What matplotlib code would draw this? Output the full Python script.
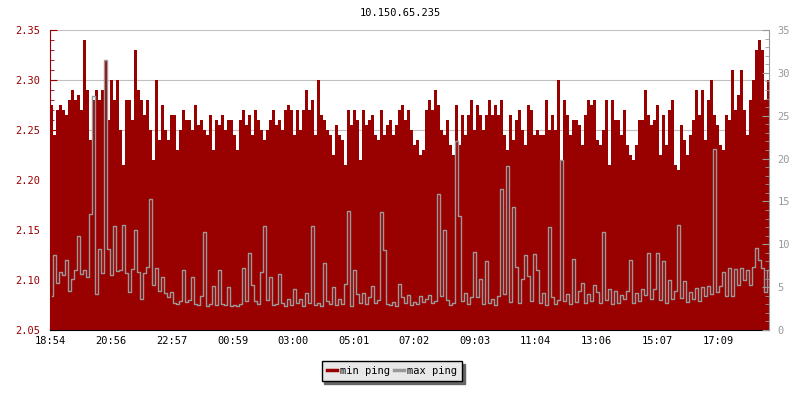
import matplotlib
matplotlib.use("Agg")
import matplotlib.pyplot as plt
from matplotlib.lines import Line2D
from matplotlib.ticker import MultipleLocator, FormatStrFormatter
import numpy as np

title = "10.150.65.235"
time_labels = ["18:54", "20:56", "22:57", "00:59", "03:00", "05:01",
               "07:02", "09:03", "11:04", "13:06", "15:07", "17:09"]
# minutes after 18:54
time_ticks = [0, 122, 243, 365, 486, 607, 728, 849, 970, 1092, 1213, 1335]
step_min = 6  # one sample every 6 minutes

# min ping (ms), left axis
min_ping = [
    2.275, 2.245, 2.27, 2.275, 2.27, 2.265, 2.28, 2.29, 2.28, 2.285,
    2.27, 2.34, 2.29, 2.24, 2.28, 2.29, 2.28, 2.29, 2.32, 2.26,
    2.30, 2.28, 2.30, 2.25, 2.215, 2.28, 2.28, 2.26, 2.33, 2.29,
    2.28, 2.265, 2.28, 2.25, 2.22, 2.30, 2.24, 2.275, 2.25, 2.24,
    2.265, 2.265, 2.23, 2.25, 2.27, 2.26, 2.26, 2.25, 2.275, 2.255,
    2.26, 2.25, 2.245, 2.265, 2.23, 2.26, 2.255, 2.265, 2.25, 2.26,
    2.26, 2.245, 2.23, 2.26, 2.27, 2.255, 2.265, 2.245, 2.27, 2.26,
    2.25, 2.24, 2.25, 2.26, 2.27, 2.255, 2.26, 2.25, 2.27, 2.275,
    2.27, 2.245, 2.27, 2.25, 2.27, 2.29, 2.27, 2.28, 2.245, 2.30,
    2.265, 2.26, 2.25, 2.245, 2.225, 2.255, 2.245, 2.24, 2.215, 2.27,
    2.255, 2.27, 2.26, 2.22, 2.27, 2.255, 2.26, 2.265, 2.245, 2.24,
    2.27, 2.245, 2.255, 2.26, 2.245, 2.255, 2.27, 2.275, 2.26, 2.27,
    2.25, 2.235, 2.24, 2.225, 2.23, 2.27, 2.28, 2.27, 2.29, 2.275,
    2.25, 2.245, 2.26, 2.235, 2.225, 2.275, 2.235, 2.265, 2.245, 2.265,
    2.28, 2.25, 2.275, 2.265, 2.25, 2.265, 2.28, 2.265, 2.275, 2.265,
    2.28, 2.245, 2.23, 2.265, 2.24, 2.26, 2.27, 2.25, 2.235, 2.275,
    2.27, 2.245, 2.25, 2.245, 2.245, 2.28, 2.25, 2.265, 2.25, 2.30,
    2.22, 2.28, 2.265, 2.245, 2.26, 2.26, 2.255, 2.235, 2.265, 2.28,
    2.275, 2.28, 2.24, 2.235, 2.25, 2.28, 2.215, 2.28, 2.26, 2.26,
    2.245, 2.27, 2.235, 2.225, 2.22, 2.235, 2.26, 2.26, 2.29, 2.265,
    2.255, 2.26, 2.275, 2.225, 2.265, 2.235, 2.27, 2.28, 2.215, 2.21,
    2.255, 2.24, 2.225, 2.245, 2.26, 2.29, 2.265, 2.29, 2.24, 2.28,
    2.30, 2.265, 2.255, 2.235, 2.23, 2.265, 2.26, 2.31, 2.27, 2.285,
    2.31, 2.27, 2.245, 2.28, 2.30, 2.33, 2.34, 2.33, 2.28, 2.30,
]

# max ping (ms), right axis
max_ping = [
    4.0, 8.7, 5.5, 6.8, 6.4, 8.2, 4.6, 6.0, 7.0, 11.0,
    6.5, 7.0, 6.2, 13.5, 27.3, 4.2, 9.5, 6.6, 31.5, 9.4,
    6.4, 12.1, 6.9, 7.0, 12.3, 6.7, 4.4, 7.1, 11.7, 6.8,
    3.6, 6.6, 7.4, 15.3, 5.2, 7.2, 4.6, 6.2, 4.3, 3.8,
    4.4, 3.2, 3.0, 3.4, 7.0, 3.3, 3.5, 6.2, 3.0, 2.9,
    4.0, 11.4, 2.8, 3.0, 5.1, 2.9, 7.0, 3.0, 2.9, 5.0,
    2.8, 2.9, 2.8, 3.0, 7.2, 3.4, 9.0, 5.3, 3.4, 3.0,
    6.8, 12.1, 3.5, 6.2, 2.9, 3.0, 6.5, 3.1, 2.8, 3.6,
    2.9, 4.8, 3.1, 3.6, 2.8, 4.3, 3.2, 12.1, 2.9, 3.2,
    2.8, 7.8, 3.4, 3.0, 5.0, 2.9, 3.6, 3.0, 5.4, 13.9,
    2.8, 7.0, 4.2, 3.1, 4.3, 3.0, 3.9, 5.1, 3.2, 3.5,
    13.8, 9.3, 3.0, 2.9, 3.3, 2.8, 5.4, 3.9, 3.1, 4.1,
    2.9, 3.3, 3.0, 4.0, 3.3, 3.6, 4.1, 3.2, 3.4, 15.9,
    4.0, 11.7, 3.5, 2.9, 3.2, 22.0, 13.3, 3.4, 4.3, 3.0,
    3.9, 9.1, 3.8, 5.9, 3.0, 8.0, 3.2, 3.6, 2.9, 4.0,
    16.5, 4.2, 19.1, 3.3, 14.3, 7.3, 3.1, 6.0, 8.8, 6.3,
    3.4, 8.9, 7.0, 3.2, 4.3, 2.9, 12.0, 3.8, 3.0, 3.5,
    19.8, 3.4, 4.2, 3.0, 8.3, 3.3, 4.5, 5.5, 3.1, 4.2,
    3.4, 5.2, 4.4, 3.2, 11.4, 3.5, 4.8, 3.0, 4.5, 3.1,
    4.1, 3.6, 4.5, 8.2, 3.2, 4.3, 3.4, 4.8, 4.1, 9.0,
    3.6, 4.8, 9.0, 3.5, 8.0, 3.1, 5.8, 3.6, 4.5, 12.2,
    3.7, 5.7, 3.3, 4.4, 3.6, 4.9, 3.4, 5.0, 4.0, 5.1,
    4.2, 21.1, 4.4, 5.1, 6.8, 4.0, 7.2, 4.0, 7.1, 5.2,
    7.2, 5.8, 7.0, 5.2, 7.4, 9.6, 8.2, 7.2, 4.4, 7.0,
]

red = "#990000"
grey = "#999999"
mono = "DejaVu Sans Mono"

t = np.arange(len(min_ping)) * step_min
edges = np.append(t, t[-1] + step_min)

fig = plt.figure(figsize=(8, 4), dpi=100)
ax = fig.add_axes([50 / 800, 70 / 400, 719 / 800, 300 / 400])
ax2 = ax.twinx()

# min ping as filled steps from the bottom of the axis
ax.fill_between(edges, np.append(min_ping, min_ping[-1]), 2.05,
                step="post", color=red, linewidth=0)
ax2.plot(t + step_min / 2, max_ping, color=grey, linewidth=1.0,
         drawstyle="steps-mid")

ax.set_xlim(0, 1437)
ax.set_ylim(2.05, 2.35)
ax2.set_ylim(0, 35)

ax.yaxis.set_major_locator(MultipleLocator(0.05))
ax.yaxis.set_minor_locator(MultipleLocator(0.01))
ax.yaxis.set_major_formatter(FormatStrFormatter("%.2f"))
ax2.yaxis.set_major_locator(MultipleLocator(5))
ax2.yaxis.set_minor_locator(MultipleLocator(1))

ax.set_xticks(time_ticks)
ax.set_xticklabels(time_labels)

ax.set_axisbelow(True)
ax.grid(axis="y", color="#c0c0c0", linewidth=0.8)

for a in (ax, ax2):
    a.spines["top"].set_visible(False)
ax.spines["right"].set_visible(False)
ax2.spines["left"].set_visible(False)
ax2.spines["bottom"].set_visible(False)
ax.spines["left"].set_color(red)
ax.spines["bottom"].set_color("black")
ax2.spines["right"].set_color(grey)

ax.tick_params(axis="y", which="both", direction="in", colors=red,
               labelsize=7.5, pad=7)
ax.tick_params(axis="y", which="major", length=5)
ax.tick_params(axis="y", which="minor", length=3)
ax.tick_params(axis="x", direction="in", length=5, colors="black",
               labelsize=7.5, pad=4)
ax2.tick_params(axis="y", which="both", direction="in", colors=grey,
                labelsize=7.5, pad=6)
ax2.tick_params(axis="y", which="major", length=5)
ax2.tick_params(axis="y", which="minor", length=3)

for lab in ax.get_xticklabels() + ax.get_yticklabels() + ax2.get_yticklabels():
    lab.set_family(mono)

fig.text(0.5, 1 - 13 / 400, title, ha="center", va="center",
         fontsize=7.5, family=mono)

handles = [Line2D([], [], color=red, linewidth=2.5),
           Line2D([], [], color=grey, linewidth=2.5)]
leg = fig.legend(handles, ["min ping", "max ping"], loc="center",
                 bbox_to_anchor=(392 / 800, 1 - 371 / 400), ncol=2,
                 frameon=True, fancybox=False,
                 shadow={"color": "#666666", "alpha": 1},
                 facecolor="#e8e8e8", edgecolor="black", framealpha=1,
                 handlelength=1.0, handletextpad=0.3, columnspacing=0.3,
                 borderpad=0.5, prop={"family": mono, "size": 7.5})
leg.get_frame().set_linewidth(1.0)

fig.savefig("out.png", dpi=100)
